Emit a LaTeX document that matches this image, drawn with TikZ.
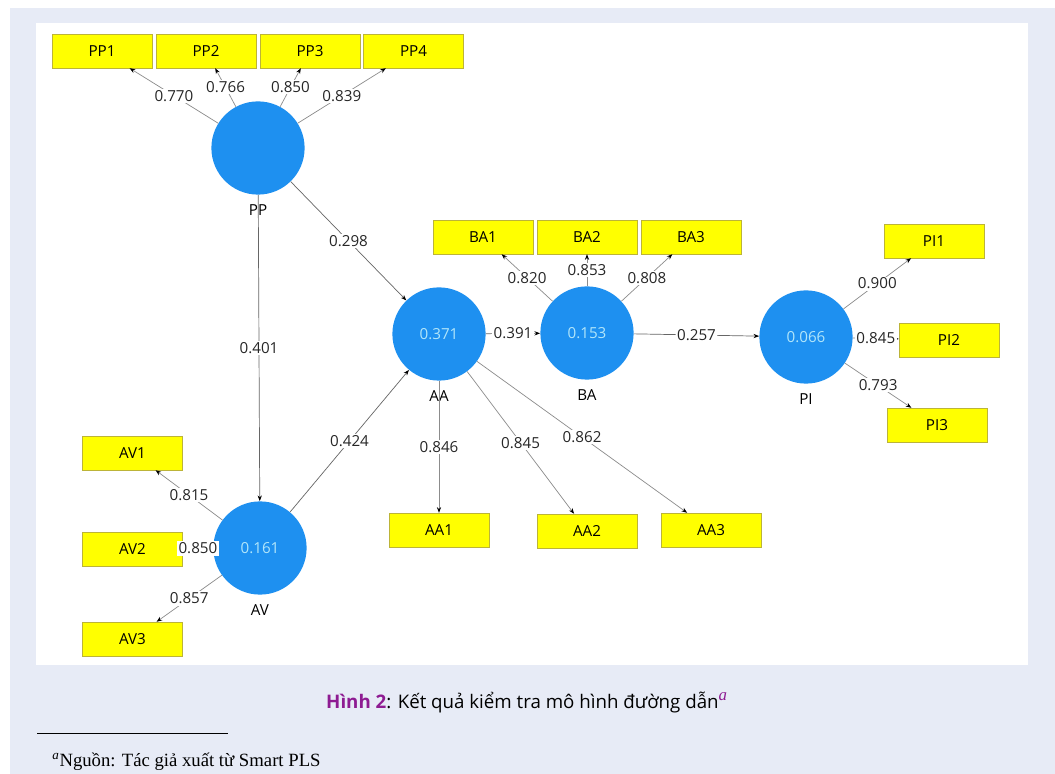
\documentclass[tikz,border=0pt]{standalone}
\usepackage{fontspec}
\setmainfont{Liberation Serif}
\newfontfamily\plsfont{Open Sans}
\usetikzlibrary{arrows.meta, positioning}

\definecolor{pagebg}{RGB}{231,235,246}
\definecolor{lvblue}{RGB}{30,144,240}
\definecolor{lvtext}{RGB}{178,230,250}
\definecolor{indyellow}{RGB}{255,255,0}
\definecolor{capurple}{RGB}{142,27,146}

\begin{document}
\begin{tikzpicture}[
        x=0.025cm, y=-0.025cm,
        font=\plsfont\fontsize{10.8}{13}\selectfont,
        lv/.style={circle, fill=lvblue, minimum size=2.33cm, inner sep=0pt, text=lvtext},
        ind/.style={draw=yellow!70!black, line width=0.3pt, fill=indyellow, minimum width=2.5cm, minimum height=0.85cm, inner sep=0pt},
        lvname/.style={inner sep=2pt},
        load/.style={draw=black!45, line width=0.5pt, -{Stealth[length=4pt, width=3pt, color=black]}},
        struct/.style={draw=black!60, line width=0.5pt, -{Stealth[length=4pt, width=3pt, color=black]}},
        coef/.style={fill=white, inner sep=1pt, text=black!85},
        >=Stealth
    ]

    % ---- page and panel ----
    \useasboundingbox (0,0) rectangle (1055,774);
    \fill[white] (0,0) rectangle (1055,774);
    \fill[pagebg] (10,8) rectangle (1055,774);
    \fill[white] (36,23) rectangle (1028,665);

    % ---- latent variables ----
    \node[lv] (pp) at (258,148) {};
    \node[lv] (aa) at (439,334) {0.371};
    \node[lv] (ba) at (587,333) {0.153};
    \node[lv] (pi) at (806,337) {0.066};
    \node[lv] (av) at (260,548) {0.161};

    \node[lvname, below=5pt of pp] (ppname) {PP};
    \node[lvname, below=5pt of aa] (aaname) {AA};
    \node[lvname, below=5pt of ba] (baname) {BA};
    \node[lvname, below=5pt of pi] (piname) {PI};
    \node[lvname, below=5pt of av] (avname) {AV};

    % ---- indicators of PP ----
    \node[ind] (pp1) at (102,51) {PP1};
    \node[ind] (pp2) at (206,51) {PP2};
    \node[ind] (pp3) at (310,51) {PP3};
    \node[ind] (pp4) at (413.5,51) {PP4};

    % ---- indicators of BA ----
    \node[ind] (ba1) at (483,237) {BA1};
    \node[ind] (ba2) at (587,237) {BA2};
    \node[ind] (ba3) at (691,237) {BA3};

    % ---- indicators of PI ----
    \node[ind] (pi1) at (934,241) {PI1};
    \node[ind] (pi2) at (949,340) {PI2};
    \node[ind] (pi3) at (937,425) {PI3};

    % ---- indicators of AA ----
    \node[ind] (aa1) at (439,530) {AA1};
    \node[ind] (aa2) at (587,531) {AA2};
    \node[ind] (aa3) at (711,530) {AA3};

    % ---- indicators of AV ----
    \node[ind] (av1) at (132.5,453) {AV1};
    \node[ind] (av2) at (132.5,549) {AV2};
    \node[ind] (av3) at (132.5,639) {AV3};

    % ---- outer loadings ----
    \draw[load] (pp) -- node[coef] {0.770} (pp1);
    \draw[load] (pp) -- node[coef] {0.766} (pp2);
    \draw[load] (pp) -- node[coef] {0.850} (pp3);
    \draw[load] (pp) -- node[coef] {0.839} (pp4);

    \draw[load] (ba) -- node[coef] {0.820} (ba1);
    \draw[load] (ba) -- node[coef] {0.853} (ba2);
    \draw[load] (ba) -- node[coef] {0.808} (ba3);

    \draw[load] (pi) -- node[coef] {0.900} (pi1);
    \draw[load] (pi) -- node[coef] {0.845} (pi2);
    \draw[load] (pi) -- node[coef] {0.793} (pi3);

    \draw[load] (aa) -- node[coef] {0.846} (aa1);
    \draw[load] (aa) -- node[coef] {0.845} (aa2);
    \draw[load] (aa) -- node[coef] {0.862} (aa3);

    \draw[load] (av) -- node[coef] {0.815} (av1);
    \draw[load] (av) -- node[coef] {0.850} (av2);
    \draw[load] (av) -- node[coef] {0.857} (av3);

    % ---- path coefficients ----
    \draw[struct] (pp) -- node[coef] {0.298} (aa);
    \draw[struct] (pp) -- node[coef] {0.401} (av);
    \draw[struct] (av) -- node[coef] {0.424} (aa);
    \draw[struct] (aa) -- node[coef] {0.391} (ba);
    \draw[struct] (ba) -- node[coef] {0.257} (pi);

    % ---- caption and footnote ----
    \node[font=\plsfont\fontsize{13.3}{16}\selectfont] (caption) at (527,702)
    {\textcolor{capurple}{\bfseries Hình 2}: Kết quả kiểm tra mô hình đường dẫn\textsuperscript{\textcolor{capurple}{\rmfamily\itshape\large a}}};

    \draw[line width=0.5pt] (37,733) -- (228,733);
    \node[anchor=west, font=\rmfamily\fontsize{13.3}{16}\selectfont, inner sep=0pt] (source) at (52,762)
    {\textsuperscript{\itshape a}Nguồn: Tác giả xuất từ Smart PLS};

\end{tikzpicture}
\end{document}
